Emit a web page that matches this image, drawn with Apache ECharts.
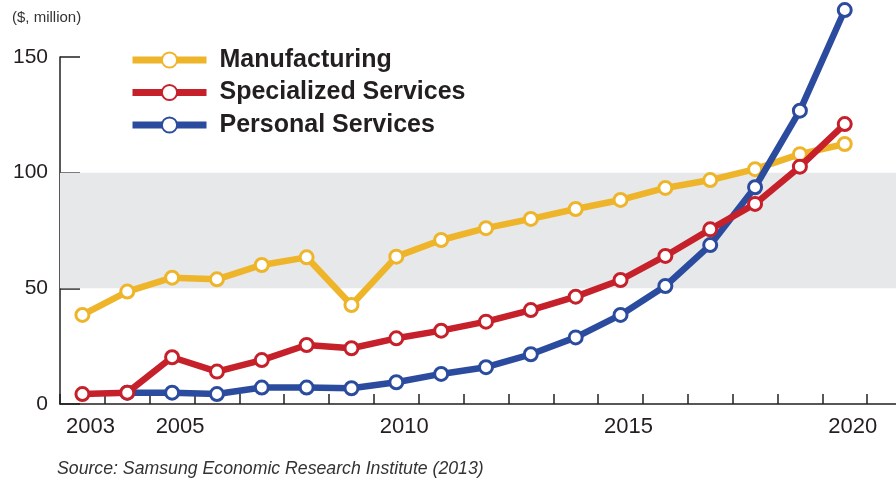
<!DOCTYPE html>
<html>
<head>
<meta charset="utf-8">
<script src="https://cdn.jsdelivr.net/npm/echarts@6/dist/echarts.min.js"></script>
<style>
  html, body { margin: 0; padding: 0; background: #ffffff; overflow: hidden; }
  /* slightly wider than the window so the axis runs on past the right edge */
  #chart { width: 912px; height: 482px; }
</style>
</head>
<body>
<div id="chart"></div>
<script>
// Years on the category axis (the trailing blank slot leaves room past 2020)
const years = ['2003','2004','2005','2006','2007','2008','2009','2010','2011','2012',
               '2013','2014','2015','2016','2017','2018','2019','2020',''];
const labelledYears = ['2003','2005','2010','2015','2020'];

// $ million per year
const manufacturing = [38.5, 48.6, 54.6, 53.9, 60.1, 63.4, 42.8, 63.7, 70.9, 76.0,
                       80.0, 84.3, 88.2, 93.4, 96.8, 101.5, 108.0, 112.4];
const specialized   = [4.3, 4.9, 20.2, 14.0, 19.0, 25.5, 24.1, 28.4, 31.7, 35.6,
                       40.6, 46.4, 53.6, 64.0, 75.5, 86.5, 102.6, 121.0];
const personal      = [null, 4.9, 4.9, 4.3, 7.1, 7.1, 6.8, 9.4, 13.0, 15.9,
                       21.5, 28.8, 38.5, 51.0, 68.7, 93.7, 126.8, 170.3];

const yTicks = { min: 0, max: 150, interval: 50 };

const YELLOW = '#EEB52B';
const RED = '#C6202B';
const BLUE = '#2B4C9E';
const INK = '#231F20';
const FONT = '"Liberation Sans", Arial, sans-serif';

function lineSeries(name, data, color, z) {
  return {
    name: name,
    type: 'line',
    data: data,
    z: z,
    clip: false,
    symbol: 'circle',
    symbolSize: 13,
    connectNulls: false,
    lineStyle: { color: color, width: 6.5 },
    itemStyle: { color: '#ffffff', borderColor: color, borderWidth: 3 },
    emphasis: { disabled: true }
  };
}

const chart = echarts.init(document.getElementById('chart'), null, { renderer: 'canvas' });

const yellowSeries = lineSeries('Manufacturing', manufacturing, YELLOW, 3);
// Shaded band between 50 and 100
yellowSeries.markArea = {
  silent: true,
  z: 1,
  itemStyle: { color: '#E7E8E9' },
  data: [[{ yAxis: 50 }, { yAxis: 100 }]]
};

chart.setOption({
  animation: false,
  backgroundColor: '#ffffff',
  textStyle: { fontFamily: FONT },
  grid: { left: 60, right: 0, top: 57, bottom: 78, containLabel: false },
  legend: {
    orient: 'vertical',
    left: 129,
    top: 47,
    padding: 0,
    itemWidth: 74,
    itemHeight: 19,
    itemGap: 6.5,
    selectedMode: false,
    data: ['Manufacturing', 'Specialized Services', 'Personal Services'],
    lineStyle: { width: 7 },
    textStyle: {
      fontFamily: FONT,
      fontSize: 25,
      fontWeight: 'bold',
      color: INK,
      lineHeight: 26,
      padding: [0, 0, 0, 8]
    }
  },
  xAxis: {
    type: 'category',
    data: years,
    boundaryGap: true,
    axisLine: { lineStyle: { color: INK, width: 1.5 } },
    axisTick: { show: true, inside: true, length: 10, interval: 0, lineStyle: { color: INK, width: 1.5 } },
    axisLabel: {
      interval: (i, v) => labelledYears.indexOf(v) !== -1,
      color: INK,
      fontSize: 22,
      fontFamily: FONT,
      margin: 12,
      padding: [0, 0, 0, 16]
    },
    splitLine: { show: false }
  },
  yAxis: {
    type: 'value',
    min: yTicks.min,
    max: yTicks.max,
    interval: yTicks.interval,
    axisLine: { show: true, lineStyle: { color: INK, width: 1.5 } },
    axisTick: { show: true, inside: true, length: 20, lineStyle: { color: INK, width: 1.5 } },
    axisLabel: { color: INK, fontSize: 21, fontFamily: FONT, margin: 12 },
    splitLine: { show: false }
  },
  graphic: [
    {
      type: 'text',
      left: 12,
      top: 10,
      style: { text: '($, million)', fill: '#333333', font: '15px ' + FONT }
    },
    {
      type: 'text',
      left: 57,
      top: 460,
      style: {
        text: 'Source: Samsung Economic Research Institute (2013)',
        fill: '#333333',
        font: 'italic 17.7px ' + FONT
      }
    }
  ],
  series: [
    yellowSeries,
    lineSeries('Personal Services', personal, BLUE, 4),
    lineSeries('Specialized Services', specialized, RED, 5)
  ]
});
</script>
</body>
</html>
